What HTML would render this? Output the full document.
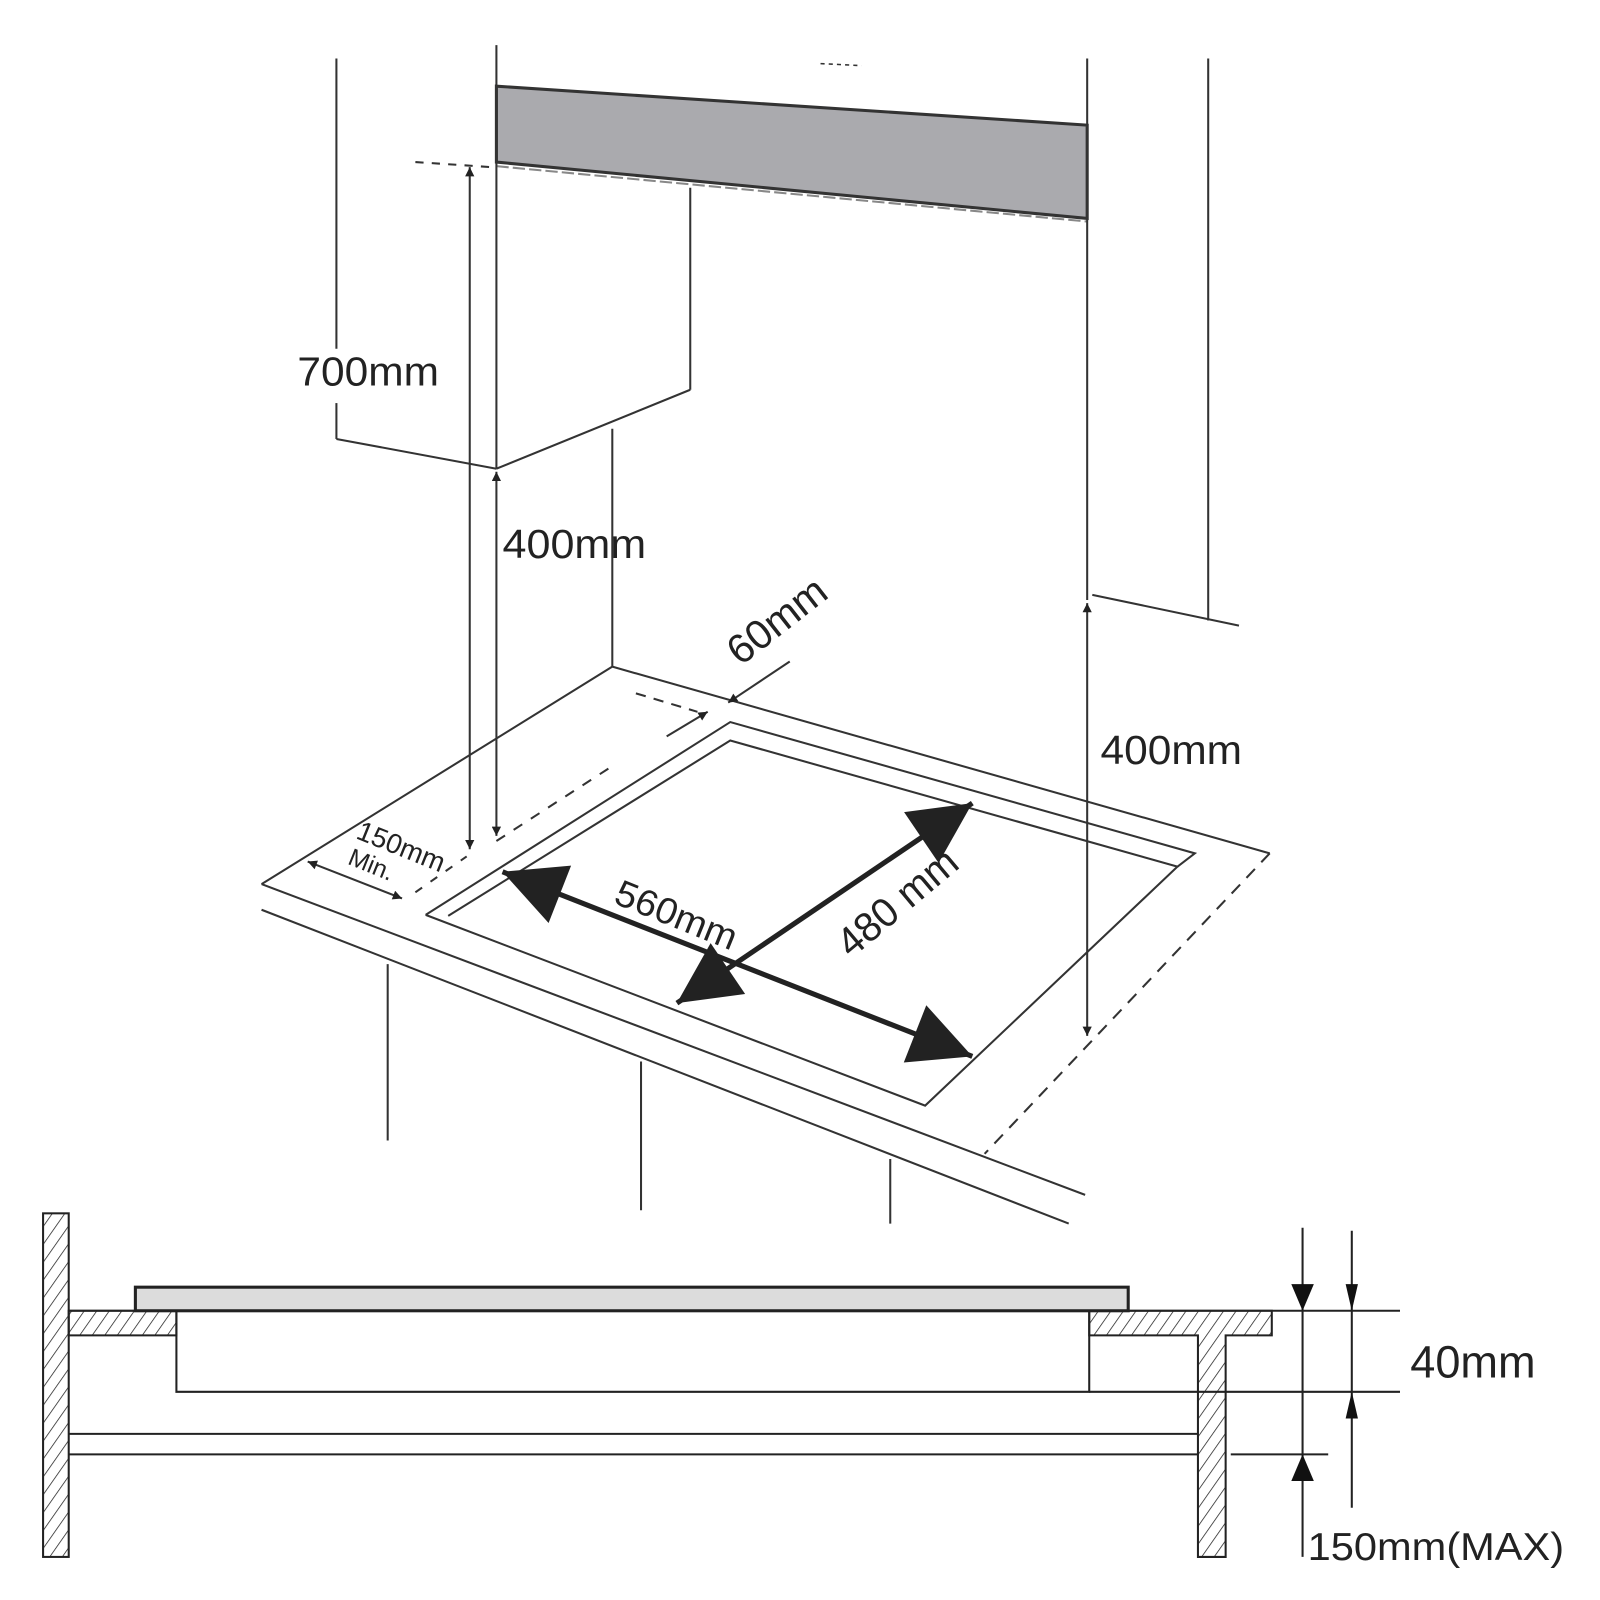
<!DOCTYPE html>
<html><head><meta charset="utf-8"><style>
html,body{margin:0;padding:0;background:#fff}
svg{display:block}
text{font-family:"Liberation Sans",sans-serif;fill:#222}
</style></head><body>
<svg width="1600" height="1600" viewBox="0 0 1560 1560" xmlns="http://www.w3.org/2000/svg">
<defs>
<pattern id="h" patternUnits="userSpaceOnUse" width="10" height="10" patternTransform="rotate(35)">
<line x1="0" y1="0" x2="0" y2="10" stroke="#222" stroke-width="1.5"/>
</pattern>
<marker id="b" viewBox="0 0 10 10" refX="10" refY="5" markerWidth="62" markerHeight="60" orient="auto-start-reverse" markerUnits="userSpaceOnUse">
<path d="M0,0 L10,5 L0,10 z" fill="#222"/></marker>
<marker id="s" viewBox="0 0 10 10" refX="10" refY="5" markerWidth="14" markerHeight="9" orient="auto-start-reverse" markerUnits="userSpaceOnUse">
<path d="M0,0 L10,5 L0,10 z" fill="#222"/></marker>
</defs>
<g stroke="#333" stroke-width="2" fill="none">
<polygon points="484,84 1060,122 1060,213 484,158" fill="#aaaaae" stroke="#333" stroke-width="3"/>
<line x1="484" y1="162" x2="1060" y2="216" stroke="#888" stroke-width="2" stroke-dasharray="12,4"/>
<line x1="328" y1="57" x2="328" y2="340"/>
<line x1="328" y1="393" x2="328" y2="428"/>
<line x1="328" y1="428" x2="484" y2="457"/>
<line x1="484" y1="44" x2="484" y2="457"/>
<line x1="673" y1="183" x2="673" y2="380"/>
<line x1="673" y1="380" x2="484" y2="457"/>
<line x1="597" y1="418" x2="597" y2="650"/>
<line x1="405" y1="158" x2="480" y2="163" stroke-dasharray="8,8"/>
<line x1="800" y1="62" x2="840" y2="64" stroke-dasharray="4,4" stroke-width="1.5"/>
<line x1="1060" y1="57" x2="1060" y2="122"/>
<line x1="1060" y1="213" x2="1060" y2="585"/>
<line x1="1178" y1="57" x2="1178" y2="605"/>
<line x1="1065" y1="580" x2="1208" y2="610"/>
<line x1="458" y1="163" x2="458" y2="828" marker-start="url(#s)" marker-end="url(#s)"/>
<line x1="484" y1="460" x2="484" y2="815" marker-start="url(#s)" marker-end="url(#s)"/>
<line x1="1060" y1="588" x2="1060" y2="1010" marker-start="url(#s)" marker-end="url(#s)"/>
<polyline points="255,862 597,650 1238,832"/>
<line x1="1238" y1="832" x2="960" y2="1125" stroke-dasharray="12,9"/>
<line x1="255" y1="862" x2="1058" y2="1165"/>
<line x1="255" y1="887" x2="1042" y2="1193"/>
<line x1="378" y1="940" x2="378" y2="1112"/>
<line x1="625" y1="1035" x2="625" y2="1180"/>
<line x1="868" y1="1130" x2="868" y2="1193"/>
<polyline points="415,892 712,704 1165,832 1148,845"/>
<polyline points="437,893 712,722 1148,845 902,1078 415,892"/>
<line x1="484" y1="820" x2="600" y2="745" stroke-dasharray="10,10"/>
<line x1="405" y1="870" x2="455" y2="835" stroke-dasharray="8,10"/>
<line x1="620" y1="676" x2="680" y2="694" stroke-dasharray="10,8"/>
<line x1="650" y1="718" x2="690" y2="694" marker-end="url(#s)"/>
<line x1="770" y1="645" x2="710" y2="685" marker-end="url(#s)"/>
<line x1="300" y1="840" x2="392" y2="876" marker-start="url(#s)" marker-end="url(#s)"/>
<line x1="490" y1="850" x2="948" y2="1030" stroke="#222" stroke-width="5" marker-start="url(#b)" marker-end="url(#b)"/>
<line x1="660" y1="978" x2="948" y2="783" stroke="#222" stroke-width="5" marker-start="url(#b)" marker-end="url(#b)"/>
</g>
<text x="290" y="376" font-size="40" textLength="138" lengthAdjust="spacingAndGlyphs">700mm</text>
<text x="490" y="544" font-size="40" textLength="140" lengthAdjust="spacingAndGlyphs">400mm</text>
<text x="1073" y="745" font-size="40" textLength="138" lengthAdjust="spacingAndGlyphs">400mm</text>
<text transform="translate(722,650) rotate(-38)" font-size="40">60mm</text>
<text transform="translate(346,817) rotate(22)" font-size="27">150mm</text>
<text transform="translate(338,842) rotate(22)" font-size="24">Min.</text>
<text transform="translate(597,880) rotate(22)" font-size="36" textLength="125" lengthAdjust="spacingAndGlyphs">560mm</text>
<text transform="translate(830,935) rotate(-40)" font-size="40" textLength="140" lengthAdjust="spacingAndGlyphs">480 mm</text>
<g stroke="#222" stroke-width="2">
<rect x="42" y="1183" width="25" height="335" fill="url(#h)"/>
<polygon points="67,1278 172,1278 172,1302 67,1302" fill="url(#h)"/>
<polygon points="1062,1278 1240,1278 1240,1302 1195,1302 1195,1518 1168,1518 1168,1302 1062,1302" fill="url(#h)"/>
<rect x="132" y="1255" width="968" height="23" fill="#dcdcdc" stroke-width="3"/>
<g fill="none">
<polyline points="172,1278 172,1357 1062,1357 1062,1278"/>
<line x1="67" y1="1278" x2="1365" y2="1278"/>
<line x1="1062" y1="1357" x2="1365" y2="1357"/>
<line x1="67" y1="1398" x2="1168" y2="1398"/>
<line x1="67" y1="1418" x2="1168" y2="1418"/>
<line x1="1200" y1="1418" x2="1295" y2="1418"/>
<line x1="1270" y1="1197" x2="1270" y2="1518"/>
<line x1="1318" y1="1200" x2="1318" y2="1470"/>
</g>
</g>
<path d="M1259,1252 L1281,1252 L1270,1278 z" fill="#111"/>
<path d="M1259,1444 L1281,1444 L1270,1418 z" fill="#111"/>
<path d="M1312,1252 L1324,1252 L1318,1278 z" fill="#111"/>
<path d="M1312,1383 L1324,1383 L1318,1357 z" fill="#111"/>
<text x="1375" y="1343" font-size="44">40mm</text>
<text x="1275" y="1521" font-size="38" textLength="250" lengthAdjust="spacingAndGlyphs">150mm(MAX)</text>
</svg>
</body></html>
